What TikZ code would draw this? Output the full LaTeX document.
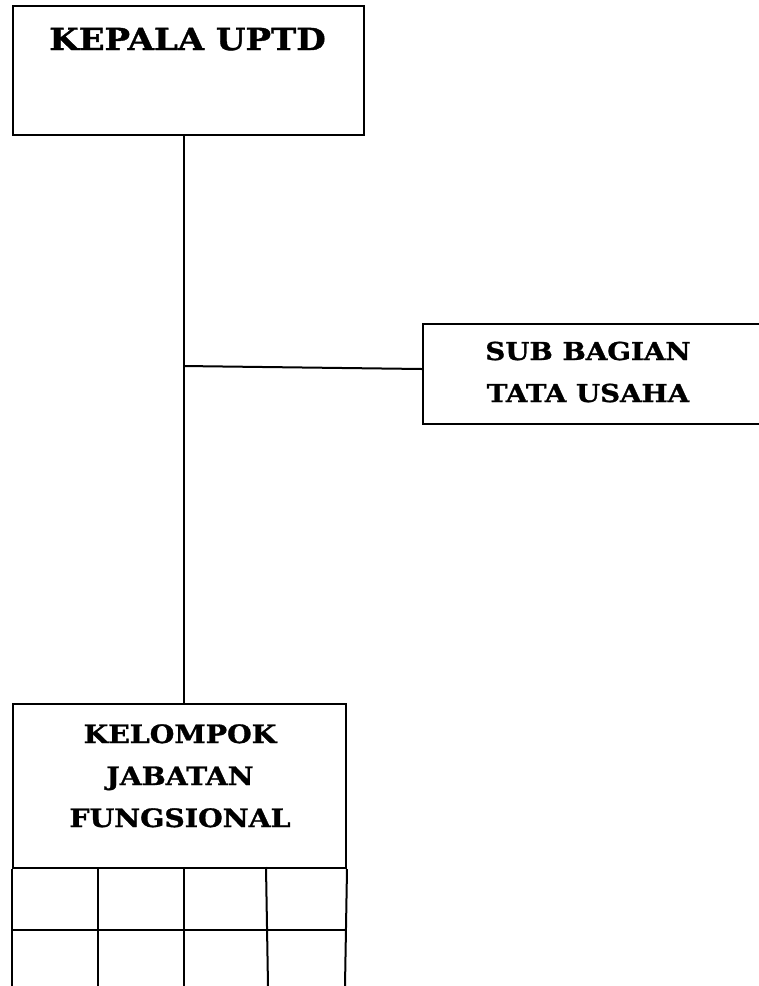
\documentclass[tikz,border=0pt]{standalone}
\usepackage{fontspec}
\setmainfont{DejaVu Serif}[FakeStretch=1.12, BoldFeatures={FakeBold=1.2}]
\begin{document}
\begin{tikzpicture}[x=1pt,y=-1pt,
  box/.style={draw, rectangle, inner sep=0pt, line width=2pt},
  conn/.style={line width=2pt},
  lbl/.style={align=center, inner sep=0pt, anchor=base}]
\useasboundingbox (0,0) rectangle (759,986);
% boxes
\node[box, anchor=north west, minimum width=351pt, minimum height=129pt] (kepala) at (12,5) {};
\node[box, anchor=north west, minimum width=342pt, minimum height=100pt] (sub) at (422,323) {};
\node[box, anchor=north west, minimum width=333pt, minimum height=164pt] (kjf) at (12,703) {};
% texts (anchor = baseline of the last line)
\node[lbl, font=\fontsize{30.3}{42}\selectfont\bfseries] (kt) at (187.5,50) {KEPALA UPTD};
\node[lbl, font=\fontsize{24.7}{42}\selectfont\bfseries] (st) at (588,402) {SUB BAGIAN\\TATA USAHA};
\node[lbl, font=\fontsize{25.3}{42}\selectfont\bfseries] (kjt) at (180,827) {KELOMPOK\\JABATAN\\FUNGSIONAL};
% connectors
\coordinate (j) at (183.5,366);
\draw[conn] (kepala.south -| j) -- (kjf.north -| j);
\draw[conn] (j) -- ([yshift=5pt]sub.west);
% grid under kelompok jabatan fungsional
\coordinate (g1) at (98,986);
\coordinate (g2) at (184,986);
\coordinate (g3) at (268,986);
\coordinate (gl) at (12,986);
\coordinate (gr) at (345,986);
\coordinate (hl) at (12,930);
\coordinate (hr) at (345,930);
\draw[conn] (kjf.south west) -- (gl);
\draw[conn] (kjf.south east) -- (gr);
\draw[conn] (hl) -- (hr);
\draw[conn] (kjf.south -| g1) -- (g1);
\draw[conn] (kjf.south -| g2) -- (g2);
\draw[conn] (266,867) -- (g3);
\end{tikzpicture}
\end{document}
